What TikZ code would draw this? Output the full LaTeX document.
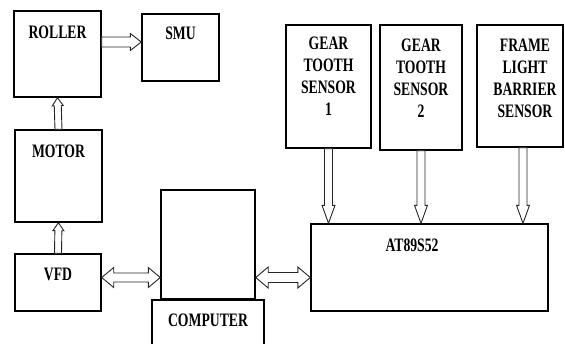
\documentclass[tikz,border=0pt]{standalone}
\usepackage{fontspec}
\newfontfamily\lbl{Liberation Serif}[FakeStretch=0.72]
\usetikzlibrary{calc}
% single-headed hollow arrow: from, to, shaft half width, head half width, head length
\newcommand\sarrow[5]{%
 \draw[arr] let \p1=(#1), \p2=(#2), \n2={veclen(\x2-\x1,\y2-\y1)}, \n3={(\x2-\x1)/\n2}, \n4={(\y2-\y1)/\n2} in
 ({\x1-(#3)*(\n4)},{\y1+(#3)*(\n3)}) --
 ({\x1+(\n2-(#5))*(\n3)-(#3)*(\n4)},{\y1+(\n2-(#5))*(\n4)+(#3)*(\n3)}) --
 ({\x1+(\n2-(#5))*(\n3)-(#4)*(\n4)},{\y1+(\n2-(#5))*(\n4)+(#4)*(\n3)}) --
 (\p2) --
 ({\x1+(\n2-(#5))*(\n3)+(#4)*(\n4)},{\y1+(\n2-(#5))*(\n4)-(#4)*(\n3)}) --
 ({\x1+(\n2-(#5))*(\n3)+(#3)*(\n4)},{\y1+(\n2-(#5))*(\n4)-(#3)*(\n3)}) --
 ({\x1+(#3)*(\n4)},{\y1-(#3)*(\n3)}) -- cycle;}
% double-headed hollow arrow
\newcommand\darrow[5]{%
 \draw[arr] let \p1=(#1), \p2=(#2), \n2={veclen(\x2-\x1,\y2-\y1)}, \n3={(\x2-\x1)/\n2}, \n4={(\y2-\y1)/\n2} in
 (\p1) --
 ({\x1+(#5)*(\n3)-(#4)*(\n4)},{\y1+(#5)*(\n4)+(#4)*(\n3)}) --
 ({\x1+(#5)*(\n3)-(#3)*(\n4)},{\y1+(#5)*(\n4)+(#3)*(\n3)}) --
 ({\x1+(\n2-(#5))*(\n3)-(#3)*(\n4)},{\y1+(\n2-(#5))*(\n4)+(#3)*(\n3)}) --
 ({\x1+(\n2-(#5))*(\n3)-(#4)*(\n4)},{\y1+(\n2-(#5))*(\n4)+(#4)*(\n3)}) --
 (\p2) --
 ({\x1+(\n2-(#5))*(\n3)+(#4)*(\n4)},{\y1+(\n2-(#5))*(\n4)-(#4)*(\n3)}) --
 ({\x1+(\n2-(#5))*(\n3)+(#3)*(\n4)},{\y1+(\n2-(#5))*(\n4)-(#3)*(\n3)}) --
 ({\x1+(#5)*(\n3)+(#3)*(\n4)},{\y1+(#5)*(\n4)-(#3)*(\n3)}) --
 ({\x1+(#5)*(\n3)+(#4)*(\n4)},{\y1+(#5)*(\n4)-(#4)*(\n3)}) -- cycle;}
\tikzset{
 box/.style={draw=black, line width=1.4pt, inner sep=0pt, fill=white},
 arr/.style={draw=black!85, line width=0.9pt, fill=white},
 txt/.style={font=\lbl\bfseries\fontsize{19}{22}\selectfont, inner sep=0pt, align=center, text=black}
}
\begin{document}
\begin{tikzpicture}[x=1pt, y=-1pt]
\useasboundingbox (0,0) rectangle (565,343);
\clip (0,0) rectangle (565,343);
\fill[white] (0,0) rectangle (565,343);
% left column
\node[box, minimum width=87pt, minimum height=86pt,
  label={[txt, anchor=north, yshift=-15pt]north:ROLLER}] (roller) at (57.5,54) {};
\node[box, minimum width=77pt, minimum height=67pt,
  label={[txt, anchor=north, yshift=-13pt]north:SMU}] (smu) at (180.5,47.5) {};
\node[box, minimum width=87pt, minimum height=92pt,
  label={[txt, anchor=north, yshift=-15pt]north:MOTOR}] (motor) at (58.5,176) {};
\node[box, minimum width=86pt, minimum height=57pt,
  label={[txt, anchor=north, yshift=-15pt]north:VFD}] (vfd) at (58,282.5) {};
% computer
\node[box, minimum width=94pt, minimum height=109pt] (screen) at (208,244.5) {};
\node[box, minimum width=112pt, minimum height=50pt,
  label={[txt, anchor=north, yshift=-14pt]north:COMPUTER}] (computer) at (208,325) {};
% sensors
\node[box, minimum width=85pt, minimum height=123pt,
  label={[txt, anchor=north, yshift=-12pt]north:GEAR\\TOOTH\\SENSOR\\1}] (gts1) at (328.5,86.5) {};
\node[box, minimum width=82pt, minimum height=125pt,
  label={[txt, anchor=north, yshift=-14pt]north:GEAR\\TOOTH\\SENSOR\\2}] (gts2) at (421,87.5) {};
\node[box, minimum width=86pt, minimum height=122pt,
  label={[txt, anchor=north, yshift=-14pt, xshift=5pt]north:FRAME\\LIGHT\\BARRIER\\SENSOR}] (flbs) at (520,86) {};
% microcontroller
\node[box, minimum width=237pt, minimum height=87pt,
  label={[txt, anchor=north, yshift=-15pt, xshift=-17.5pt]north:AT89S52}] (at) at (429.5,267.5) {};
% connectors
\coordinate (a1) at ([yshift=12pt]roller.east);
\coordinate (m) at ([yshift=5pt]vfd.east);
\coordinate (s3) at ([xshift=3pt]flbs.south);
\sarrow{a1}{a1 -| smu.west}{5}{8.5}{11}
\sarrow{motor.north}{roller.south}{3.5}{5.5}{8}
\sarrow{vfd.north}{motor.south}{3.5}{5.5}{8}
\darrow{m}{m -| screen.west}{4.5}{10}{12}
\darrow{screen.east |- m}{m -| at.west}{5}{10.5}{12.5}
\sarrow{gts1.south}{gts1.south |- at.north}{4}{6.5}{18}
\sarrow{gts2.south}{gts2.south |- at.north}{4}{6.5}{18}
\sarrow{s3}{s3 |- at.north}{4}{6.5}{18}
\end{tikzpicture}
\end{document}
